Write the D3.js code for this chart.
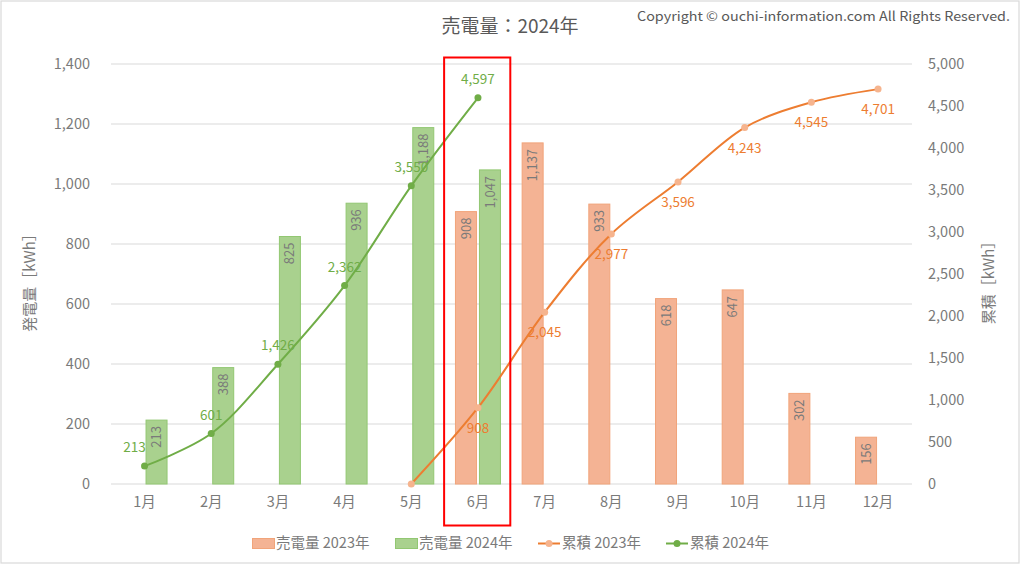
<!DOCTYPE html>
<html><head><meta charset="utf-8">
<script src="https://cdn.jsdelivr.net/npm/d3@7"></script>
<style>
html,body{margin:0;padding:0;background:#fff;}
text{font-family:"Noto Sans CJK JP","Noto Sans",sans-serif;}
</style></head>
<body><svg id="c" width="1024" height="566"></svg>
<script>
const months = ["1月","2月","3月","4月","5月","6月","7月","8月","9月","10月","11月","12月"];
const sales2023 = [null,null,null,null,null,908,1137,933,618,647,302,156];
const sales2024 = [213,388,825,936,1188,1047,null,null,null,null,null,null];
const cum2023 = [null,null,null,null,0,908,2045,2977,3596,4243,4545,4701];
const cum2024 = [213,601,1426,2362,3550,4597,null,null,null,null,null,null];
const leftTicks = [0,200,400,600,800,1000,1200,1400];
const rightTicks = [0,500,1000,1500,2000,2500,3000,3500,4000,4500,5000];
const seriesNames = ["売電量 2023年","売電量 2024年","累積 2023年","累積 2024年"];
const titleText = "売電量：2024年";
const copyright = "Copyright © ouchi-information.com All Rights Reserved.";
const highlightMonth = "6月";

const svg = d3.select("#c");
const gray = "#595959", lightGray = "#7a7a7a";
const orange = "#ed7d31", green = "#70ad47";
const orangeFill = "#f4b394", orangeStroke = "#f1a47a";
const greenFill = "#a9d18e", greenStroke = "#92c772";

const x = d3.scaleBand().domain(months).range([111.2, 911.4]);
const x1 = d3.scaleBand().domain(["2023","2024"]).range([-22.5,22.5]).paddingInner(0.125);
const yL = d3.scaleLinear().domain([0,1400]).range([484,64]);
const yR = d3.scaleLinear().domain([0,5000]).range([484,64]);
const cx = m => x(m) + x.bandwidth()/2;

// frame
svg.append("rect").attr("x",1).attr("y",1).attr("width",1018).attr("height",562)
  .attr("fill","none").attr("stroke","#d9d9d9").attr("stroke-width",1.2);

// gridlines
svg.append("g").selectAll("line").data(leftTicks).join("line")
  .attr("x1",111).attr("x2",912).attr("y1",d=>yL(d)).attr("y2",d=>yL(d))
  .attr("stroke","#d9d9d9").attr("stroke-width",1);

// axes
const axL = svg.append("g").attr("transform","translate(111,0)")
  .call(d3.axisLeft(yL).tickValues(leftTicks).tickFormat(d3.format(",")).tickSize(0).tickPadding(21));
const axR = svg.append("g").attr("transform","translate(912,0)")
  .call(d3.axisRight(yR).tickValues(rightTicks).tickFormat(d3.format(",")).tickSize(0).tickPadding(16));
const axB = svg.append("g").attr("transform","translate(0,484)")
  .call(d3.axisBottom(x).tickSize(0).tickPadding(13));
[axL,axR,axB].forEach(a=>{
  a.select(".domain").remove();
  a.selectAll("text").attr("fill",lightGray).style("font-size","14.5px")
   .style("font-family",'"Noto Sans CJK JP","Noto Sans",sans-serif');
});

// bars
const bars = svg.append("g");
months.forEach((m,i)=>{
  [[sales2023[i],"2023",orangeFill,orangeStroke],[sales2024[i],"2024",greenFill,greenStroke]].forEach(([v,k,f,s])=>{
    if(v==null) return;
    const bx = cx(m)+x1(k);
    bars.append("rect").attr("x",bx).attr("y",yL(v)).attr("width",x1.bandwidth()).attr("height",yL(0)-yL(v))
      .attr("fill",f).attr("stroke",s).attr("stroke-width",1);
    bars.append("text").attr("transform",`translate(${bx+x1.bandwidth()/2},${yL(v)}) rotate(-90)`)
      .attr("x",-6).attr("dy","0.35em").attr("text-anchor","end")
      .attr("fill",lightGray).style("font-size","13px").text(d3.format(",")(v));
  });
});

// lines
const line = d3.line().defined(d=>d.v!=null).x(d=>cx(d.m)).y(d=>yR(d.v)).curve(d3.curveCatmullRom.alpha(0.5));
function drawLine(vals,color,mfill,r,labelAbove){
  const data = months.map((m,i)=>({m,v:vals[i]}));
  const g = svg.append("g");
  g.append("path").datum(data.filter(d=>d.v!=null)).attr("d",line).attr("fill","none")
    .attr("stroke",color).attr("stroke-width",2);
  const pts = data.filter(d=>d.v!=null);
  g.selectAll("circle").data(pts).join("circle").attr("cx",d=>cx(d.m)).attr("cy",d=>yR(d.v))
    .attr("r",r).attr("fill",mfill);
  g.selectAll("text").data(pts.filter(d=>d.v>0)).join("text")
    .attr("x",(d,i)=>cx(d.m)-(labelAbove&&i===0?10:0)).attr("y",d=>yR(d.v)+(labelAbove?-14:25))
    .attr("text-anchor","middle").attr("fill",color).style("font-size","13.5px")
    .text(d=>d3.format(",")(d.v));
}
drawLine(cum2023,orange,"#f6b48e",3.5,false);
drawLine(cum2024,green,green,3.5,true);

// highlight box
svg.append("rect").attr("x",x(highlightMonth)-0.5).attr("y",57.5)
  .attr("width",x.bandwidth()-0.5).attr("height",468).attr("fill","none")
  .attr("stroke","#ff0000").attr("stroke-width",2);

// titles
svg.append("text").attr("x",510).attr("y",33).attr("text-anchor","middle")
  .attr("fill",gray).style("font-size","19px").text(titleText);
svg.append("text").attr("x",1010).attr("y",21).attr("text-anchor","end")
  .attr("fill",gray).style("font-size","13px").attr("textLength",373).attr("lengthAdjust","spacingAndGlyphs").text(copyright);
svg.append("text").attr("transform","translate(30,279) rotate(-90)").attr("text-anchor","middle")
  .attr("dy","0.35em").attr("fill",lightGray).style("font-size","15px").text("発電量［kWh］");
svg.append("text").attr("transform","translate(989,279) rotate(-90)").attr("text-anchor","middle")
  .attr("dy","0.35em").attr("fill",lightGray).style("font-size","15px").text("累積［kWh］");

// legend
const lg = svg.append("g");
const lx = [252,395,538,666];
seriesNames.forEach((n,i)=>{
  const g = lg.append("g").attr("transform",`translate(${lx[i]},543)`);
  if(i<2){
    g.append("rect").attr("x",0.5).attr("y",-4.5).attr("width",22).attr("height",10)
      .attr("fill",i==0?orangeFill:greenFill).attr("stroke",i==0?orangeStroke:greenStroke);
  } else {
    const c = i==2?orange:green;
    g.append("line").attr("x1",0).attr("x2",22).attr("y1",0.5).attr("y2",0.5).attr("stroke",c).attr("stroke-width",2);
    g.append("circle").attr("cx",11).attr("cy",0.5).attr("r",3.5).attr("fill",i==2?"#f6b48e":green);
  }
  g.append("text").attr("x",24).attr("dy","0.35em").attr("fill",lightGray).style("font-size","14.5px").text(n);
});
</script></body></html>
